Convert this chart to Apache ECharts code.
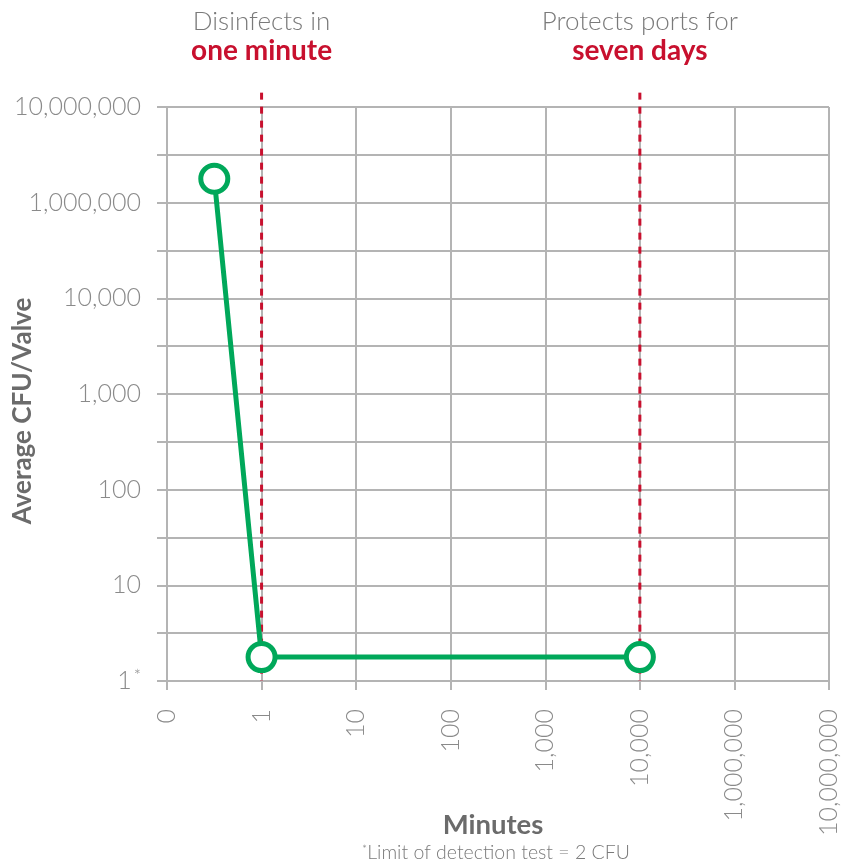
<!DOCTYPE html>
<html>
<head>
<meta charset="utf-8">
<script src="https://cdn.jsdelivr.net/npm/echarts@6/dist/echarts.min.js"></script>
<style>
html,body{margin:0;padding:0;background:#fff;}
#chart{width:842px;height:865px;}
</style>
</head>
<body>
<div id="chart"></div>
<script>
// Tick labels (axes are evenly spaced, one slot per label)
const xLabels = ['0', '1', '10', '100', '1,000', '10,000', '1,000,000', '10,000,000'];
const yLabels = ['1*', '10', '100', '1,000', '10,000', '1,000,000', '10,000,000'];

// Series: positions in axis slots
const xPos = [0.5, 1, 5];
const yPos = [5.25, 0.25, 0.25];

// Reference lines (x slots) and their annotations
const refX = [1, 5];
const refTop = 6.15;
const refLine1 = ['Disinfects in', 'Protects ports for'];
const refLine2 = ['one minute', 'seven days'];

const yTitle = 'Average CFU/Valve';
const xTitle = 'Minutes';
const footnote = 'Limit of detection test = 2 CFU';

const FONT = 'Lato, "Open Sans", sans-serif';
const GRID_C = '#b4b4b4';
const LABEL_C = '#8a8a8a';
const RED = '#c8102e';
const GREEN = '#00a85a';

const chart = echarts.init(document.getElementById('chart'), null, {renderer: 'canvas'});

const refSeries = refX.map(function (x) {
  return {
    type: 'line',
    data: [[x, refTop], [x, 0]],
    symbol: 'none',
    clip: false,
    silent: true,
    z: 1,
    lineStyle: {color: RED, width: 3, type: [7, 7]}
  };
});

const option = {
  animation: false,
  backgroundColor: '#fff',
  grid: {left: 167, right: 13, top: 107, bottom: 184, containLabel: false},
  xAxis: {
    type: 'value', min: 0, max: xLabels.length - 1, interval: 1,
    axisLine: {show: true, lineStyle: {color: GRID_C, width: 2}},
    axisTick: {show: true, length: 9, lineStyle: {color: GRID_C, width: 2}},
    splitLine: {show: true, lineStyle: {color: GRID_C, width: 2}},
    axisLabel: {
      rotate: 90, margin: 28, fontSize: 25, fontFamily: FONT, fontWeight: 300, color: LABEL_C,
      showMinLabel: true, showMaxLabel: true,
      formatter: function (v) { return xLabels[v] || ''; }
    }
  },
  yAxis: {
    type: 'value', min: 0, max: yLabels.length - 1, interval: 0.5,
    axisLine: {show: true, lineStyle: {color: GRID_C, width: 2}},
    axisTick: {show: true, length: 10, lineStyle: {color: GRID_C, width: 2}},
    splitLine: {show: true, lineStyle: {color: GRID_C, width: 2}},
    axisLabel: {
      margin: 26, fontSize: 25, fontFamily: FONT, fontWeight: 300, color: LABEL_C,
      showMinLabel: true, showMaxLabel: true,
      formatter: function (v) {
        if (!Number.isInteger(v)) return '';
        const s = yLabels[v];
        if (s.endsWith('*')) return '{n|' + s.slice(0, -1) + '}{s|*}';
        return s;
      },
      rich: {
        n: {fontSize: 25, fontFamily: FONT, fontWeight: 300, color: LABEL_C},
        s: {fontSize: 17, fontFamily: FONT, fontWeight: 300, color: LABEL_C, verticalAlign: 'top', padding: [0, 0, 0, 2]}
      }
    }
  },
  series: refSeries.concat([{
    type: 'line',
    data: xPos.map(function (x, i) { return [x, yPos[i]]; }),
    symbol: 'circle',
    symbolSize: 27,
    z: 5,
    lineStyle: {color: GREEN, width: 5},
    itemStyle: {color: '#fff', borderColor: GREEN, borderWidth: 5}
  }])
};

chart.setOption(option);

const graphics = [];
refX.forEach(function (x, i) {
  const p = chart.convertToPixel({gridIndex: 0}, [x, refTop]);
  graphics.push({
    type: 'text', x: p[0], y: 22,
    style: {text: refLine1[i], fontSize: 26, fontFamily: FONT, fontWeight: 300, fill: '#7a7a7a',
      align: 'center', verticalAlign: 'middle', textAlign: 'center', textVerticalAlign: 'middle'}
  });
  graphics.push({
    type: 'text', x: p[0], y: 51,
    style: {text: refLine2[i], fontSize: 28, fontFamily: FONT, fontWeight: 'bold', fill: RED,
      align: 'center', verticalAlign: 'middle', textAlign: 'center', textVerticalAlign: 'middle'}
  });
});
graphics.push({
  type: 'text', x: 23, y: 411, rotation: Math.PI / 2,
  style: {text: yTitle, fontSize: 26, fontFamily: FONT, fontWeight: 'bold', fill: '#6b6b6b',
    align: 'center', verticalAlign: 'middle', textAlign: 'center', textVerticalAlign: 'middle'}
});
graphics.push({
  type: 'text', x: 493, y: 825,
  style: {text: xTitle, fontSize: 27.5, fontFamily: FONT, fontWeight: 'bold', fill: '#6b6b6b',
    align: 'center', verticalAlign: 'middle', textAlign: 'center', textVerticalAlign: 'middle'}
});
graphics.push({
  type: 'text', x: 496, y: 853,
  style: {
    text: '{s|*}{t|' + footnote + '}',
    align: 'center', verticalAlign: 'middle', textAlign: 'center', textVerticalAlign: 'middle',
    rich: {
      s: {fontSize: 12, fontFamily: FONT, fontWeight: 300, fill: '#7a7a7a', verticalAlign: 'top'},
      t: {fontSize: 19.5, fontFamily: FONT, fontWeight: 300, fill: '#7a7a7a'}
    }
  }
});
chart.setOption({graphic: graphics});
</script>
</body>
</html>
